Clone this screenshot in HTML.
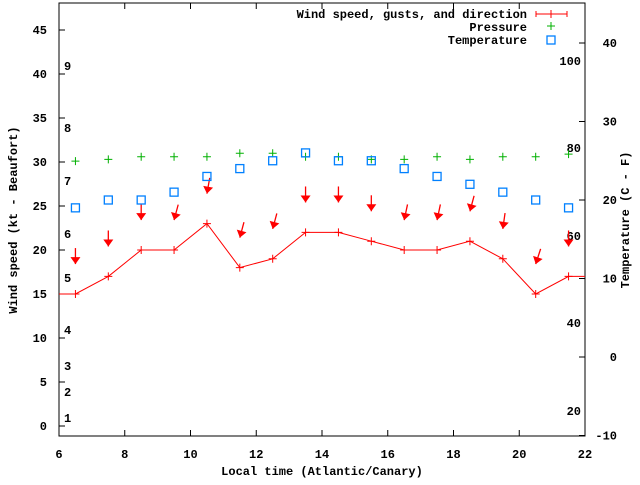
<!DOCTYPE html>
<html><head><meta charset="utf-8"><style>
body{margin:0;background:#fff}
svg text{font-family:"Liberation Mono",monospace;font-size:12px;font-weight:bold;fill:#000}
</style></head><body>
<svg id="c" width="640" height="480" xmlns="http://www.w3.org/2000/svg">
<rect width="640" height="480" fill="#fff"/>
<g id="g"></g>
</svg>
<script>
const hours=[6.5,7.5,8.5,9.5,10.5,11.5,12.5,13.5,14.5,15.5,16.5,17.5,18.5,19.5,20.5,21.5];
const wind=[15,17,20,20,23,18,19,22,22,21,20,20,21,19,15,17];
const windDir=[0,0,0,15,10,15,15,0,0,0,12,12,15,8,18,0];
const pressure=[30.1,30.3,30.6,30.6,30.6,31,31,30.6,30.6,30.3,30.3,30.6,30.3,30.6,30.6,30.9];
const temperature=[19,20,20,21,23,24,25,26,25,25,24,23,22,21,20,19];
const xTicks=[6,8,10,12,14,16,18,20,22];
const yTicks=[0,5,10,15,20,25,30,35,40,45];
const y2Ticks=[-10,0,10,20,30,40];
const beaufort=[[1,418],[2,392],[3,366],[4,330],[5,278],[6,234],[7,181],[8,128],[9,66]];
const fahr=[[100,61],[80,148],[60,236],[40,323],[20,411]];
const L=59,R=585,T=3,B=436;
const X=h=>L+(h-6)*(R-L)/16;
const Y=v=>426-v*8.8;
const Y2=v=>357-v*7.85;
const g=document.getElementById('g');
const NS='http://www.w3.org/2000/svg';
function mk(tag,attrs,parent){const e=document.createElementNS(NS,tag);for(const k in attrs)e.setAttribute(k,attrs[k]);(parent||g).appendChild(e);return e;}
function txt(s,x,y,anchor){const t=mk('text',{x:x,y:y,'text-anchor':anchor||'start'});t.textContent=s;return t;}
// frame
const fr=mk('rect',{x:L,y:T,width:R-L,height:B-T,fill:'none',stroke:'#000','stroke-width':1});


xTicks.forEach(h=>{
  mk('line',{x1:X(h),x2:X(h),y1:B,y2:B-6,stroke:'#000'});
  mk('line',{x1:X(h),x2:X(h),y1:T,y2:T+6,stroke:'#000'});
  const t=txt(String(h),X(h),458,'middle');
  
  
});
yTicks.forEach(v=>{
  mk('line',{x1:L,x2:L+6,y1:Y(v),y2:Y(v),stroke:'#000'});
  const t=txt(String(v),47,Y(v)+4,'end');
  
  
});
y2Ticks.forEach(v=>{
  mk('line',{x1:R,x2:R-6,y1:Y2(v),y2:Y2(v),stroke:'#000'});
  const t=txt(String(v),617,Y2(v)+4,'end');
  
  
});
beaufort.forEach(b=>{const t=txt(String(b[0]),64,b[1]+4);
  
  });
fahr.forEach(f=>{const t=txt(String(f[0]),581,f[1]+4,'end');
  
  });
// axis titles
let t=txt('Local time (Atlantic/Canary)',322,475,'middle');


t=txt('Wind speed (kt - Beaufort)',0,0,'middle');t.setAttribute('transform','translate(17,220) rotate(-90)');


t=txt('Temperature (C - F)',0,0,'middle');t.setAttribute('transform','translate(629,220) rotate(-90)');


function plus(x,y,c,n){const p=mk('path',{d:`M${x-4},${y}h8M${x},${y-4}v8`,stroke:c,'stroke-width':1});}
// wind line
let d=`M${L},${Y(wind[0])}`;hours.forEach((h,i)=>d+=`L${X(h)},${Y(wind[i])}`);d+=`L${R},${Y(wind[wind.length-1])}`;
const wl=mk('path',{d:d,fill:'none',stroke:'#f00','stroke-width':1});


hours.forEach((h,i)=>plus(X(h),Y(wind[i]),'#f00','wind-point'));
// direction arrows
hours.forEach((h,i)=>{
  const x=X(h),y=Y(wind[i]+3.4),a=windDir[i]*Math.PI/180;
  const tx=x+Math.sin(a)*16,ty=y-Math.cos(a)*16;
  const grp=mk('g',{});
  
  
  mk('line',{x1:tx,y1:ty,x2:x,y2:y,stroke:'#f00','stroke-width':1.3},grp);
  const ux=Math.sin(a),uy=-Math.cos(a);
  mk('polygon',{points:`${x},${y} ${x+ux*7-uy*5},${y+uy*7+ux*5} ${x+ux*7+uy*5},${y+uy*7-ux*5}`,fill:'#f00'},grp);
});
hours.forEach((h,i)=>plus(X(h),Y(pressure[i]),'#00b000','pressure-point'));
hours.forEach((h,i)=>{const r=mk('rect',{x:X(h)-4,y:Y2(temperature[i])-4,width:8,height:8,fill:'none',stroke:'#0080ff','stroke-width':1.3});
  
  });
// legend
t=txt('Wind speed, gusts, and direction',527,18,'end');
mk('path',{d:'M536,14h31M536,11v6M567,11v6M551,10v8',stroke:'#f00'});
t=txt('Pressure',527,31,'end');
plus(551,26,'#00b000','legend-pressure-marker');
t=txt('Temperature',527,44,'end');
mk('rect',{x:547,y:36,width:8,height:8,fill:'none',stroke:'#0080ff','stroke-width':1.3});
</script>
</body></html>
